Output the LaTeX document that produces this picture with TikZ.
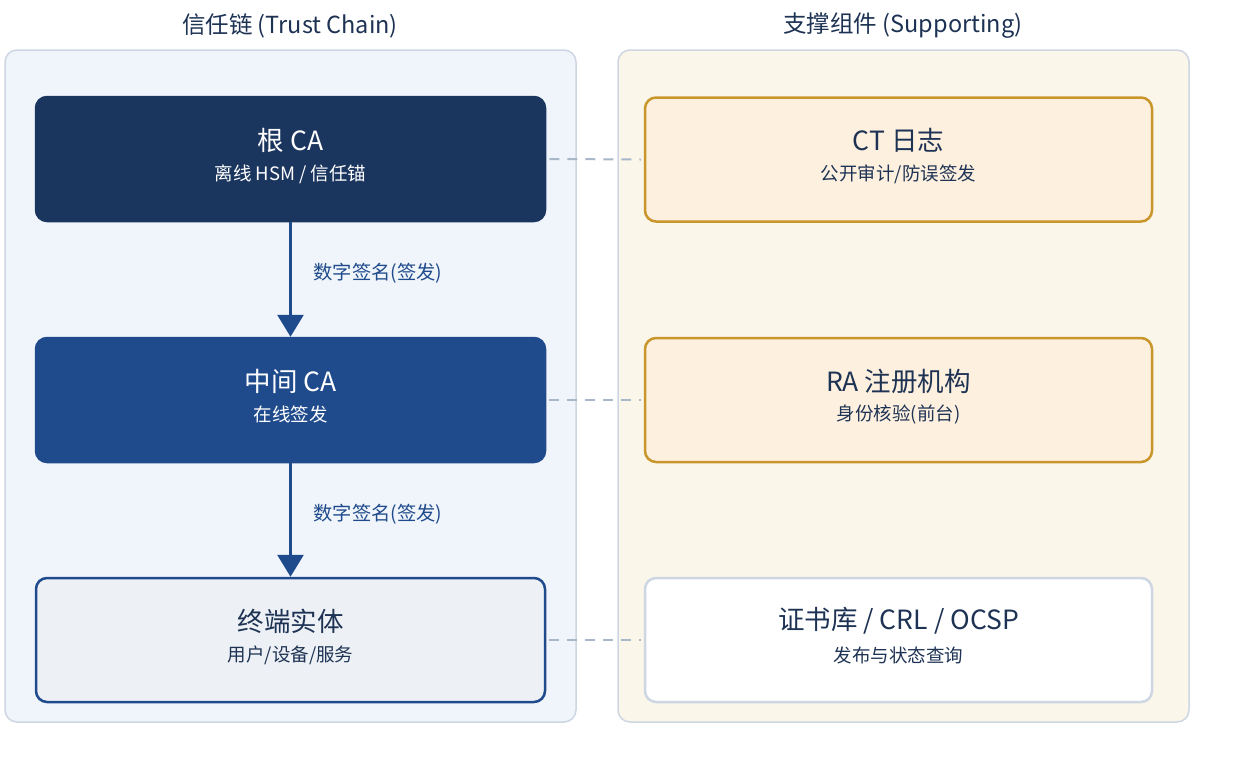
\documentclass[tikz,border=0pt]{standalone}
\usepackage{fontspec}
\setmainfont{Noto Sans CJK SC}
\usetikzlibrary{arrows.meta}
\definecolor{navy}{HTML}{1A355E}
\definecolor{midblue}{HTML}{1F4B8C}
\definecolor{leftbg}{HTML}{F0F4FB}
\definecolor{rightbg}{HTML}{FAF6EA}
\definecolor{panelborder}{HTML}{CDD6E2}
\definecolor{endfill}{HTML}{EDF1F5}
\definecolor{ambfill}{HTML}{FDF0DF}
\definecolor{ambborder}{HTML}{C8962A}
\definecolor{dashc}{HTML}{A8B8CA}
\definecolor{txt}{HTML}{1E3354}
\tikzset{
  panel/.style={draw=panelborder, line width=1.5pt, rounded corners=12pt},
  boxnode/.style={minimum width=509pt, minimum height=124pt, rounded corners=11pt, line width=2.5pt, inner sep=0pt},
  ttl/.style={font=\fontsize{23.5}{27}\selectfont, text=txt},
  big/.style={font=\fontsize{26.5}{30}\selectfont},
  small/.style={font=\fontsize{18.5}{22}\selectfont},
  conn/.style={draw=midblue, line width=3pt, -{Triangle[length=22pt,width=26pt]}},
  link/.style={draw=dashc, line width=2pt, dash pattern=on 10pt off 8pt},
  lbl/.style={font=\fontsize{19.3}{22}\selectfont, text=midblue, anchor=west},
}
\begin{document}
\begin{tikzpicture}[x=1pt,y=-1pt]
\useasboundingbox (0,0) rectangle (1234,766);
\fill[white] (0,0) rectangle (1234,766);
% panels
\draw[panel, fill=leftbg] (5,50) rectangle (576,722);
\draw[panel, fill=rightbg] (618,50) rectangle (1189,722);
\node[ttl] (tl) at (290,26) {信任链 (Trust Chain)};
\node[ttl] (tr) at (903,26) {支撑组件 (Supporting)};
% left boxes
\node[boxnode, fill=navy, draw=navy] (root) at (290.5,159) {};
\node[big, text=white] (rootA) at (290.5,140) {根 CA};
\node[small, text=white] (rootB) at (290.5,174) {离线 HSM / 信任锚};
\node[boxnode, fill=midblue, draw=midblue] (inter) at (290.5,400) {};
\node[big, text=white] (interA) at (290.5,381) {中间 CA};
\node[small, text=white] (interB) at (290.5,414) {在线签发};
\node[boxnode, fill=endfill, draw=midblue] (ee) at (290.5,640) {};
\node[big, text=txt] (eeA) at (290.5,621) {终端实体};
\node[small, text=txt] (eeB) at (290.5,655) {用户/设备/服务};
% right boxes
\node[boxnode, minimum width=507pt, fill=ambfill, draw=ambborder] (ct) at (898.5,159.5) {};
\node[big, text=txt] (ctA) at (898.5,140) {CT 日志};
\node[small, text=txt] (ctB) at (898.5,174) {公开审计/防误签发};
\node[boxnode, minimum width=507pt, fill=ambfill, draw=ambborder] (ra) at (898.5,400) {};
\node[big, text=txt] (raA) at (898.5,381) {RA 注册机构};
\node[small, text=txt] (raB) at (898.5,414) {身份核验(前台)};
\node[boxnode, minimum width=507pt, fill=white, draw=panelborder] (repo) at (898.5,640) {};
\node[big, text=txt] (repoA) at (898.5,621) {证书库 / CRL / OCSP};
\node[small, text=txt] (repoB) at (898.5,655) {发布与状态查询};
% arrows
\draw[conn] (root.south) -- (inter.north);
\draw[conn] (inter.south) -- (ee.north);
\node[lbl] (l1) at (310,273) {数字签名(签发)};
\node[lbl] (l2) at (310,514) {数字签名(签发)};
% dashed links
\draw[link] ([xshift=3pt]root.east) -- ([xshift=-3pt]ct.west);
\draw[link] ([xshift=3pt]inter.east) -- ([xshift=-3pt]ra.west);
\draw[link] ([xshift=3pt]ee.east) -- ([xshift=-3pt]repo.west);
\end{tikzpicture}
\end{document}
